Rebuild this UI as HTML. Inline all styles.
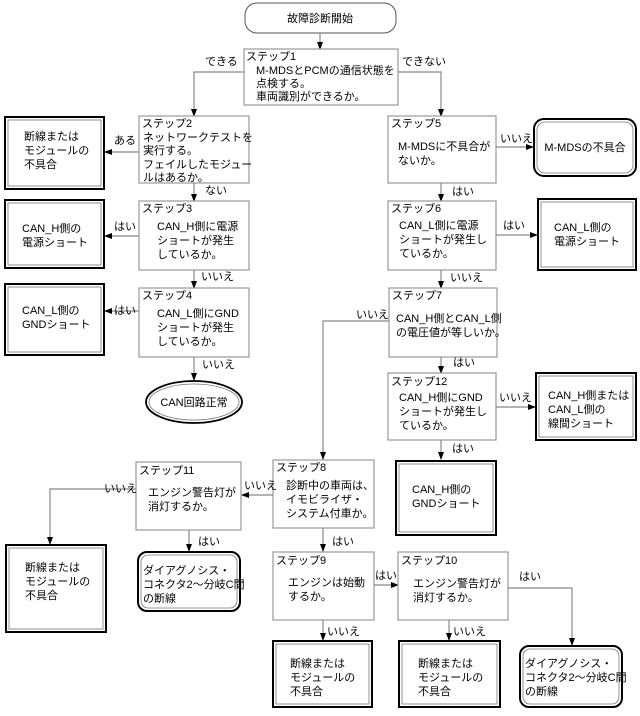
<!DOCTYPE html>
<html><head><meta charset="utf-8"><style>
html,body{margin:0;padding:0;background:#fff}
svg{display:block}
text{font-family:"Liberation Sans","Noto Sans CJK JP",sans-serif;font-size:11px;fill:#000}
.s{fill:#fff;stroke:#999;stroke-width:1.2}
.l{fill:none;stroke:#888;stroke-width:1.2}
.o{fill:#fff;stroke:#000;stroke-width:2}
.i{fill:none;stroke:#777;stroke-width:0.8}
</style></head><body>
<svg width="640" height="716" viewBox="0 0 640 716" xmlns="http://www.w3.org/2000/svg">
<defs><marker id="a" markerWidth="8" markerHeight="6" refX="7" refY="3" orient="auto" markerUnits="userSpaceOnUse"><path d="M0,0 L8,3 L0,6 z" fill="#000"/></marker></defs>

<!-- start -->
<rect x="245" y="3" width="151" height="30" rx="12" fill="#fff" stroke="#555" stroke-width="1"/>
<text x="320" y="22" text-anchor="middle">故障診断開始</text>
<line class="l" x1="320" y1="33" x2="320" y2="49" marker-end="url(#a)"/>

<!-- step1 -->
<rect class="s" x="244" y="49" width="154" height="56"/>
<text x="246" y="60">ステップ1</text>
<text x="256" y="74">M-MDSとPCMの通信状態を</text>
<text x="256" y="87">点検する。</text>
<text x="256" y="100">車両識別ができるか。</text>
<polyline class="l" points="244,72 194,72 194,116" marker-end="url(#a)"/>
<text x="205" y="65">できる</text>
<polyline class="l" points="398,72 441,72 441,116" marker-end="url(#a)"/>
<text x="402" y="65">できない</text>

<!-- step2 -->
<rect class="s" x="139" y="116" width="110" height="67"/>
<text x="142" y="127">ステップ2</text>
<text x="143" y="141">ネットワークテストを</text>
<text x="143" y="154">実行する。</text>
<text x="143" y="168">フェイルしたモジュー</text>
<text x="143" y="181">ルはあるか。</text>
<line class="l" x1="139" y1="152" x2="105" y2="152" marker-end="url(#a)"/>
<text x="114" y="144">ある</text>
<rect class="o" x="5" y="117" width="99" height="72"/><rect class="i" x="8" y="120" width="93" height="66"/>
<text x="24" y="140">断線または</text><text x="24" y="154">モジュールの</text><text x="24" y="168">不具合</text>

<line class="l" x1="194" y1="183" x2="194" y2="201" marker-end="url(#a)"/>
<text x="205" y="194">ない</text>

<!-- step3 -->
<rect class="s" x="139" y="201" width="110" height="69"/>
<text x="142" y="212">ステップ3</text>
<text x="157" y="230">CAN_H側に電源</text>
<text x="157" y="244">ショートが発生</text>
<text x="157" y="258">しているか。</text>
<line class="l" x1="139" y1="236" x2="105" y2="236" marker-end="url(#a)"/>
<text x="114" y="230">はい</text>
<rect class="o" x="5" y="200" width="99" height="68"/><rect class="i" x="8" y="203" width="93" height="62"/>
<text x="22" y="232">CAN_H側の</text><text x="22" y="246">電源ショート</text>

<line class="l" x1="194" y1="270" x2="194" y2="288" marker-end="url(#a)"/>
<text x="201" y="280">いいえ</text>

<!-- step4 -->
<rect class="s" x="139" y="288" width="110" height="69"/>
<text x="142" y="299">ステップ4</text>
<text x="157" y="317">CAN_L側にGND</text>
<text x="157" y="331">ショートが発生</text>
<text x="157" y="345">しているか。</text>
<line class="l" x1="139" y1="311" x2="105" y2="311" marker-end="url(#a)"/>
<text x="114" y="314">はい</text>
<rect class="o" x="5" y="284" width="99" height="71"/><rect class="i" x="8" y="287" width="93" height="65"/>
<text x="22" y="314">CAN_L側の</text><text x="22" y="328">GNDショート</text>

<line class="l" x1="194" y1="357" x2="194" y2="380" marker-end="url(#a)"/>
<text x="202" y="368">いいえ</text>
<ellipse cx="194" cy="402" rx="48" ry="21" fill="#fff" stroke="#000" stroke-width="1.8"/>
<ellipse cx="194" cy="402" rx="45" ry="18" fill="none" stroke="#777" stroke-width="0.8"/>
<text x="194" y="406" text-anchor="middle">CAN回路正常</text>

<!-- step5 -->
<rect class="s" x="388" y="116" width="108" height="67"/>
<text x="391" y="127">ステップ5</text>
<text x="398" y="150">M-MDSに不具合が</text>
<text x="398" y="164">ないか。</text>
<line class="l" x1="496" y1="147" x2="533" y2="147" marker-end="url(#a)"/>
<text x="500" y="142">いいえ</text>
<rect x="534" y="119" width="102" height="57" rx="10" fill="#fff" stroke="#000" stroke-width="2"/>
<rect x="537" y="122" width="96" height="51" rx="8" fill="none" stroke="#777" stroke-width="0.8"/>
<text x="585" y="151" text-anchor="middle">M-MDSの不具合</text>

<line class="l" x1="441" y1="183" x2="441" y2="201" marker-end="url(#a)"/>
<text x="452" y="195">はい</text>

<!-- step6 -->
<rect class="s" x="388" y="201" width="108" height="69"/>
<text x="391" y="212">ステップ6</text>
<text x="399" y="229">CAN_L側に電源</text>
<text x="399" y="243">ショートが発生し</text>
<text x="399" y="257">ているか。</text>
<line class="l" x1="496" y1="235" x2="537" y2="235" marker-end="url(#a)"/>
<text x="503" y="229">はい</text>
<rect class="o" x="538" y="199" width="98" height="71"/><rect class="i" x="541" y="202" width="92" height="65"/>
<text x="554" y="231">CAN_L側の</text><text x="554" y="245">電源ショート</text>

<line class="l" x1="441" y1="270" x2="441" y2="288" marker-end="url(#a)"/>
<text x="450" y="281">いいえ</text>

<!-- step7 -->
<rect class="s" x="389" y="288" width="108" height="69"/>
<text x="392" y="299">ステップ7</text>
<text x="396" y="322">CAN_H側とCAN_L側</text>
<text x="396" y="336">の電圧値が等しいか。</text>
<polyline class="l" points="389,321 323,321 323,459" marker-end="url(#a)"/>
<text x="356" y="318">いいえ</text>

<line class="l" x1="441" y1="357" x2="441" y2="373" marker-end="url(#a)"/>
<text x="453" y="366">はい</text>

<!-- step12 -->
<rect class="s" x="388" y="373" width="108" height="67"/>
<text x="391" y="385">ステップ12</text>
<text x="399" y="401">CAN_H側にGND</text>
<text x="399" y="415">ショートが発生し</text>
<text x="399" y="429">ているか。</text>
<line class="l" x1="496" y1="407" x2="535" y2="407" marker-end="url(#a)"/>
<text x="499" y="401">いいえ</text>
<rect class="o" x="536" y="373" width="100" height="67"/><rect class="i" x="539" y="376" width="94" height="61"/>
<text x="548" y="399">CAN_H側または</text><text x="548" y="413">CAN_L側の</text><text x="548" y="427">線間ショート</text>

<line class="l" x1="441" y1="440" x2="441" y2="459" marker-end="url(#a)"/>
<text x="452" y="452">はい</text>
<rect class="o" x="396" y="461" width="100" height="74"/><rect class="i" x="399" y="464" width="94" height="68"/>
<text x="412" y="493">CAN_H側の</text><text x="412" y="507">GNDショート</text>

<!-- step8 -->
<rect class="s" x="273" y="460" width="101" height="68"/>
<text x="276" y="471">ステップ8</text>
<text x="286" y="489">診断中の車両は、</text>
<text x="286" y="503">イモビライザ・</text>
<text x="286" y="517">システム付車か。</text>
<line class="l" x1="273" y1="495" x2="242" y2="495" marker-end="url(#a)"/>
<text x="244" y="489">いいえ</text>

<!-- step11 -->
<rect class="s" x="136" y="462" width="105" height="68"/>
<text x="139" y="474">ステップ11</text>
<text x="148" y="496">エンジン警告灯が</text>
<text x="148" y="510">消灯するか。</text>
<polyline class="l" points="136,489 50,489 50,544" marker-end="url(#a)"/>
<text x="104" y="492">いいえ</text>
<rect class="o" x="6" y="545" width="100" height="87"/><rect class="i" x="9" y="548" width="94" height="81"/>
<text x="25" y="571">断線または</text><text x="25" y="585">モジュールの</text><text x="25" y="599">不具合</text>

<line class="l" x1="189" y1="530" x2="189" y2="551" marker-end="url(#a)"/>
<text x="198" y="545">はい</text>
<rect x="138" y="552" width="102" height="59" rx="9" fill="#fff" stroke="#000" stroke-width="2"/>
<rect x="141" y="555" width="96" height="53" rx="7" fill="none" stroke="#777" stroke-width="0.8"/>
<text x="143" y="574">ダイアグノシス・</text><text x="143" y="588">コネクタ2～分岐C間</text><text x="143" y="602">の断線</text>

<line class="l" x1="323" y1="528" x2="323" y2="551" marker-end="url(#a)"/>
<text x="332" y="545">はい</text>

<!-- step9 -->
<rect class="s" x="273" y="552" width="101" height="68"/>
<text x="276" y="564">ステップ9</text>
<text x="288" y="586">エンジンは始動</text>
<text x="288" y="600">するか。</text>
<line class="l" x1="374" y1="585" x2="398" y2="585" marker-end="url(#a)"/>
<text x="375" y="579">はい</text>

<!-- step10 -->
<rect class="s" x="398" y="552" width="110" height="68"/>
<text x="401" y="564">ステップ10</text>
<text x="413" y="587">エンジン警告灯が</text>
<text x="413" y="601">消灯するか。</text>
<polyline class="l" points="508,588 572,588 572,645" marker-end="url(#a)"/>
<text x="519" y="580">はい</text>

<line class="l" x1="323" y1="620" x2="323" y2="640" marker-end="url(#a)"/>
<text x="327" y="635">いいえ</text>
<line class="l" x1="449" y1="620" x2="449" y2="640" marker-end="url(#a)"/>
<text x="453" y="635">いいえ</text>

<rect class="o" x="273" y="641" width="99" height="66"/><rect class="i" x="276" y="644" width="93" height="60"/>
<text x="290" y="667">断線または</text><text x="290" y="681">モジュールの</text><text x="290" y="695">不具合</text>
<rect class="o" x="399" y="641" width="101" height="66"/><rect class="i" x="402" y="644" width="95" height="60"/>
<text x="418" y="667">断線または</text><text x="418" y="681">モジュールの</text><text x="418" y="695">不具合</text>

<rect x="520" y="646" width="102" height="61" rx="9" fill="#fff" stroke="#000" stroke-width="2"/>
<rect x="523" y="649" width="96" height="55" rx="7" fill="none" stroke="#777" stroke-width="0.8"/>
<text x="525" y="667">ダイアグノシス・</text><text x="525" y="681">コネクタ2～分岐C間</text><text x="525" y="695">の断線</text>
</svg>
</body></html>
